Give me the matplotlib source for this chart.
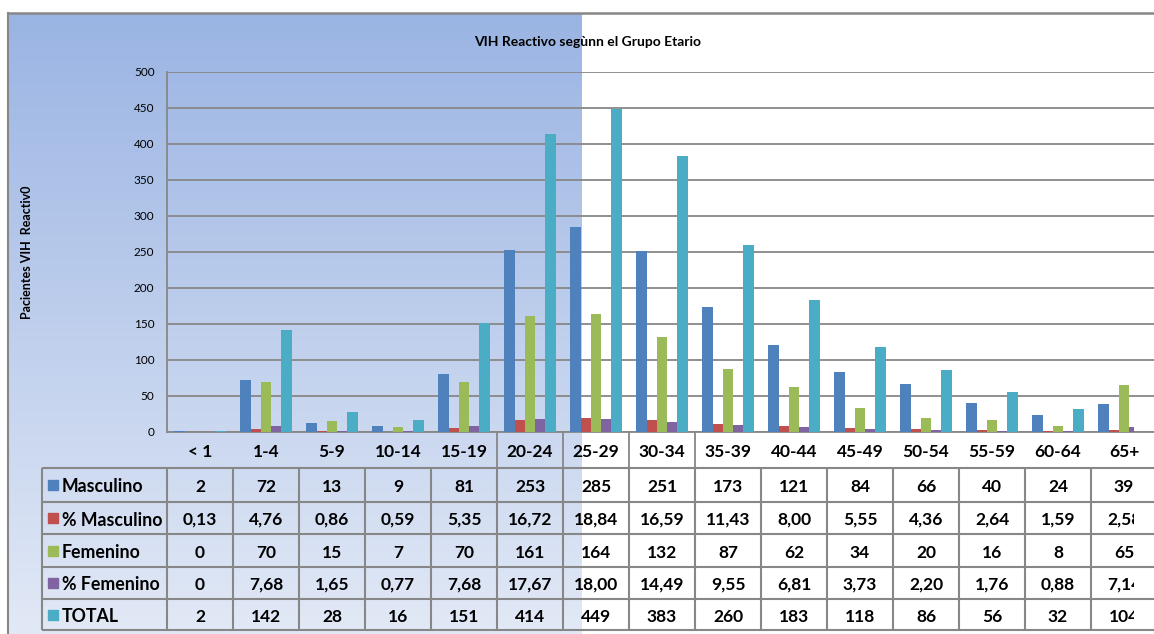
import numpy as np
import matplotlib.pyplot as plt
from matplotlib.patches import Rectangle
from matplotlib.transforms import Bbox, TransformedBbox

plt.rcParams['font.family'] = ['Lato', 'DejaVu Sans']

# datos por grupo etario
grupos = ['< 1', '1-4', '5-9', '10-14', '15-19', '20-24', '25-29', '30-34',
          '35-39', '40-44', '45-49', '50-54', '55-59', '60-64', '65+']
masculino = [2, 72, 13, 9, 81, 253, 285, 251, 173, 121, 84, 66, 40, 24, 39]
pct_masculino = [0.13, 4.76, 0.86, 0.59, 5.35, 16.72, 18.84, 16.59, 11.43,
                 8.00, 5.55, 4.36, 2.64, 1.59, 2.58]
femenino = [0, 70, 15, 7, 70, 161, 164, 132, 87, 62, 34, 20, 16, 8, 65]
pct_femenino = [0, 7.68, 1.65, 0.77, 7.68, 17.67, 18.00, 14.49, 9.55,
                6.81, 3.73, 2.20, 1.76, 0.88, 7.14]
total = [2, 142, 28, 16, 151, 414, 449, 383, 260, 183, 118, 86, 56, 32, 104]

series = [
    ('Masculino', masculino, '#4F81BD', False),
    ('% Masculino', pct_masculino, '#C0504D', True),
    ('Femenino', femenino, '#9BBB59', False),
    ('% Femenino', pct_femenino, '#8064A2', True),
    ('TOTAL', total, '#4BACC6', False),
]

titulo = 'VIH Reactivo segùnn el Grupo Etario'
eje_y = 'Pacientes VIH  Reactiv0'

# layout in pixels
W, H = 1154, 634
AX_L, AX_TOP, AX_BOT = 167, 72, 432
COL = 66
CLIP_X = 1134
GRIS = '#878787'

fig = plt.figure(figsize=(W / 100, H / 100), dpi=100)

# background layer in pixel coordinates
bg = fig.add_axes([0, 0, 1, 1], zorder=0)
bg.set_xlim(0, W)
bg.set_ylim(H, 0)
bg.axis('off')

t = np.linspace(0, 1, 256)[:, None, None]
top = np.array([154, 180, 227]) / 255
bot = np.array([226, 233, 246]) / 255
grad = top + (bot - top) * t
bg.imshow(grad, extent=[8, 582, H, 13], aspect='auto', zorder=0)
bg.plot([8, 8], [13, H], color=GRIS, lw=1.5)
bg.plot([8, W], [13, 13], color=GRIS, lw=1.8)

bg.text(588, 42, titulo, ha='center', va='center', fontsize=10, fontweight='bold')
bg.text(27, 252, eje_y, rotation=90, ha='center', va='center',
        fontsize=9, fontweight='bold')

# the last column is cut off at the chart edge
clip = Rectangle((0, 0), CLIP_X, H, transform=bg.transData)
clip_box = TransformedBbox(Bbox([[0, 0], [CLIP_X / W, 1]]), fig.transFigure)

# chart
ax = fig.add_axes([AX_L / W, (H - AX_BOT) / H, len(grupos) * COL / W,
                   (AX_BOT - AX_TOP) / H], zorder=1)
ax.patch.set_alpha(0)
x = np.arange(len(grupos))
w = 0.156
for k, (nombre, vals, color, _) in enumerate(series):
    bars = ax.bar(x + (k - 2) * w, vals, w, color=color, zorder=3)
    for b in bars:
        b.set_clip_path(clip)

ax.set_xlim(-0.5, len(grupos) - 0.5)
ax.set_ylim(0, 500)
ax.set_yticks(range(0, 501, 50))
ax.set_xticks([])
ax.yaxis.grid(True, color=GRIS, lw=1.3)
ax.set_axisbelow(True)
ax.tick_params(axis='y', length=0, pad=9, labelsize=8.5)
for s in ('top', 'right'):
    ax.spines[s].set_visible(False)
for s in ('left', 'bottom'):
    ax.spines[s].set_color(GRIS)
    ax.spines[s].set_linewidth(1.3)

# data table under the chart
centros = [AX_L + COL * (i + 0.5) for i in range(len(grupos))]
bordes_col = [42, AX_L] + [AX_L + COL * (i + 1) for i in range(len(grupos) - 1)]
bordes_fila = [468, 502, 534, 567, 599, 630]

for cx, g in zip(centros, grupos):
    bg.text(cx, 452, g, ha='center', va='center', fontsize=12.5, fontweight='bold')
bg.vlines([AX_L + COL * i for i in (5, 6, 7, 8)], AX_BOT, bordes_fila[0],
          color=GRIS, lw=1.3)

bg.hlines(bordes_fila, 42, W, color=GRIS, lw=1.5)
bg.vlines(bordes_col, bordes_fila[0], bordes_fila[-1], color=GRIS, lw=1.5)


def fmt(v, pct):
    if not pct or v == 0:
        return f'{v:g}'
    return f'{v:.2f}'.replace('.', ',')


for r, (nombre, vals, color, pct) in enumerate(series):
    yc = (bordes_fila[r] + bordes_fila[r + 1]) / 2
    bg.add_patch(Rectangle((48, yc - 5), 10, 10, color=color))
    bg.text(62, yc + 2, nombre, ha='left', va='center', fontsize=12.8,
            fontweight='bold')
    for cx, v in zip(centros, vals):
        txt = bg.text(cx, yc + 2, fmt(v, pct), ha='center', va='center',
                      fontsize=12.5, fontweight='bold', clip_on=True)
        txt.set_clip_box(clip_box)

fig.savefig('out.png', dpi=100)
